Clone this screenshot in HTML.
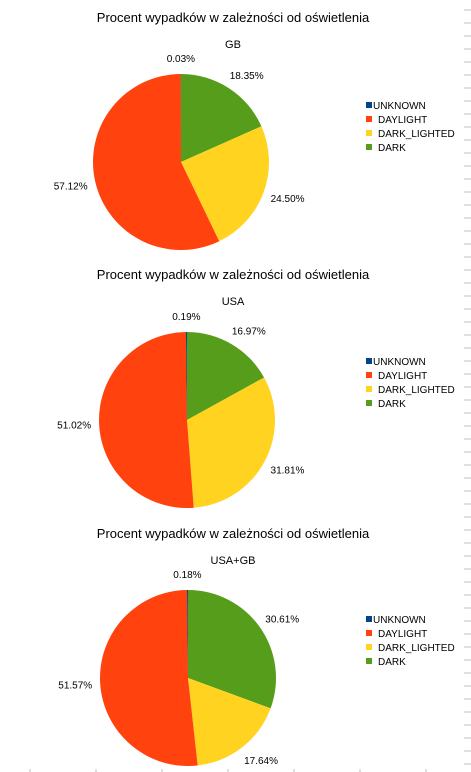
<!DOCTYPE html>
<html><head><meta charset="utf-8"><style>
html,body{margin:0;padding:0;background:#fff;}
svg{display:block;font-family:"Liberation Sans",sans-serif;}
</style></head><body>
<svg id="c" width="471" height="772"></svg>
<script>
const categories = ["UNKNOWN","DAYLIGHT","DARK_LIGHTED","DARK"];
const colors = ["#004586","#ff420e","#ffd320","#579d1c"];
const subtitles = ["GB","USA","USA+GB"];
const gbValues = [0.03,57.12,24.50,18.35];
const usaValues = [0.19,51.02,31.81,16.97];
const allValues = [0.18,51.57,17.64,30.61];
const seriesValues = [gbValues, usaValues, allValues];
const layout = [
  {cx:181, cy:162, top:0, legY:105},
  {cx:187, cy:420, top:257, legY:361},
  {cx:188, cy:678, top:516, legY:619}
];
const R = 88;
const NS = "http://www.w3.org/2000/svg";
const svg = document.getElementById("c");
function mk(tag, attrs, parent){
  const e = document.createElementNS(NS, tag);
  for (const k in attrs) e.setAttribute(k, attrs[k]);
  (parent||svg).appendChild(e);
  return e;
}
// right edge ticks
for (let y=10; y<772; y+=13){
  const t = mk("line",{x1:464,x2:471,y1:y,y2:y,stroke:"#c0c0c0","stroke-width":1});
  
  
}
for (let x=30; x<471; x+=66){
  const t = mk("line",{x1:x,x2:x,y1:769,y2:772,stroke:"#c0c0c0","stroke-width":1});
  
  
}
seriesValues.forEach((vals, ci) => {
  const L = layout[ci];
  const g = mk("g",{});
  
  
  const t1 = mk("text",{x:233,y:L.top+22,"text-anchor":"middle","font-size":13,fill:"#000"},g);
  t1.textContent = "Procent wypadków w zależności od oświetlenia";
  
  
  const t2 = mk("text",{x:233,y:L.top+48,"text-anchor":"middle","font-size":11,fill:"#000"},g);
  t2.textContent = subtitles[ci];
  
  
  const total = vals.reduce((a,b)=>a+b,0);
  let ang = 0; // clockwise from top, order reversed from legend
  for (let i = vals.length-1; i >= 0; i--){
    const a0 = ang, a1 = ang + vals[i]/total*2*Math.PI;
    ang = a1;
    const p = a => [L.cx + R*Math.sin(a), L.cy - R*Math.cos(a)];
    const [x0,y0] = p(a0), [x1,y1] = p(a1);
    const large = (a1-a0) > Math.PI ? 1 : 0;
    const s = mk("path",{d:`M${L.cx},${L.cy} L${x0},${y0} A${R},${R} 0 ${large} 1 ${x1},${y1} Z`,fill:colors[i]},g);
    
    
    const mid = (a0+a1)/2;
    const lr = R + 16;
    const lx = L.cx + lr*Math.sin(mid), ly = L.cy - lr*Math.cos(mid);
    let anchor = "middle";
    if (Math.sin(mid) > 0.3) anchor = "start";
    else if (Math.sin(mid) < -0.3) anchor = "end";
    const lab = mk("text",{x: anchor==="start"? lx-8 : anchor==="end"? lx+8 : lx, y:ly+4,"text-anchor":anchor,"font-size":10,fill:"#000"},g);
    lab.textContent = vals[i].toFixed(2)+"%";
    
    
  }
  categories.forEach((c, i) => {
    const y = L.legY + i*14;
    const sq = mk("rect",{x:366,y:y-3,width:6,height:6,fill:colors[i]},g);
    
    
    const tx = mk("text",{x: i===0?373:378,y:y+4,"font-size":10,fill:"#000"},g);
    tx.textContent = c;
    
    
  });
});
</script>
</body></html>
